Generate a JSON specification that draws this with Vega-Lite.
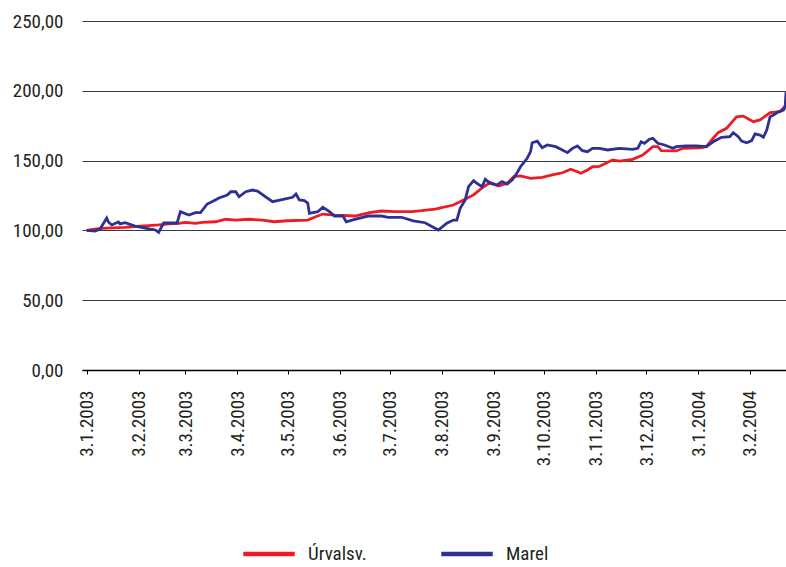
{
  "$schema": "https://vega.github.io/schema/vega-lite/v6.json",
  "autosize": {"type": "none"},
  "padding": {"left": 82, "top": 21, "right": 0, "bottom": 197},
  "width": 704,
  "height": 349,
  "background": "white",
  "config": {
    "view": {"stroke": null},
    "font": "Liberation Sans Narrow, Roboto Condensed, Roboto"
  },
  "data": {
    "values": [
      {"d": "2003-01-03", "s": "Úrvalsv.", "v": 100.0},
      {"d": "2003-01-09", "s": "Úrvalsv.", "v": 101.0},
      {"d": "2003-01-12", "s": "Úrvalsv.", "v": 101.5},
      {"d": "2003-01-26", "s": "Úrvalsv.", "v": 102.2},
      {"d": "2003-01-30", "s": "Úrvalsv.", "v": 102.6},
      {"d": "2003-02-09", "s": "Úrvalsv.", "v": 103.4},
      {"d": "2003-02-15", "s": "Úrvalsv.", "v": 103.9},
      {"d": "2003-02-21", "s": "Úrvalsv.", "v": 104.6},
      {"d": "2003-02-27", "s": "Úrvalsv.", "v": 105.1},
      {"d": "2003-03-03", "s": "Úrvalsv.", "v": 105.8},
      {"d": "2003-03-09", "s": "Úrvalsv.", "v": 105.1},
      {"d": "2003-03-13", "s": "Úrvalsv.", "v": 105.8},
      {"d": "2003-03-21", "s": "Úrvalsv.", "v": 106.2},
      {"d": "2003-03-27", "s": "Úrvalsv.", "v": 108.0},
      {"d": "2003-04-02", "s": "Úrvalsv.", "v": 107.4},
      {"d": "2003-04-10", "s": "Úrvalsv.", "v": 108.0},
      {"d": "2003-04-18", "s": "Úrvalsv.", "v": 107.4},
      {"d": "2003-04-25", "s": "Úrvalsv.", "v": 106.2},
      {"d": "2003-05-03", "s": "Úrvalsv.", "v": 106.9},
      {"d": "2003-05-15", "s": "Úrvalsv.", "v": 107.4},
      {"d": "2003-05-19", "s": "Úrvalsv.", "v": 109.4},
      {"d": "2003-05-24", "s": "Úrvalsv.", "v": 111.7},
      {"d": "2003-05-31", "s": "Úrvalsv.", "v": 111.0},
      {"d": "2003-06-12", "s": "Úrvalsv.", "v": 110.3},
      {"d": "2003-06-21", "s": "Úrvalsv.", "v": 112.7},
      {"d": "2003-06-28", "s": "Úrvalsv.", "v": 113.9},
      {"d": "2003-07-06", "s": "Úrvalsv.", "v": 113.4},
      {"d": "2003-07-16", "s": "Úrvalsv.", "v": 113.4},
      {"d": "2003-07-22", "s": "Úrvalsv.", "v": 114.1},
      {"d": "2003-07-30", "s": "Úrvalsv.", "v": 115.3},
      {"d": "2003-08-10", "s": "Úrvalsv.", "v": 118.2},
      {"d": "2003-08-16", "s": "Úrvalsv.", "v": 121.8},
      {"d": "2003-08-22", "s": "Úrvalsv.", "v": 125.4},
      {"d": "2003-08-28", "s": "Úrvalsv.", "v": 131.3},
      {"d": "2003-09-01", "s": "Úrvalsv.", "v": 134.2},
      {"d": "2003-09-06", "s": "Úrvalsv.", "v": 131.8},
      {"d": "2003-09-11", "s": "Úrvalsv.", "v": 133.7},
      {"d": "2003-09-15", "s": "Úrvalsv.", "v": 138.5},
      {"d": "2003-09-19", "s": "Úrvalsv.", "v": 139.0},
      {"d": "2003-09-25", "s": "Úrvalsv.", "v": 137.3},
      {"d": "2003-10-02", "s": "Úrvalsv.", "v": 138.0},
      {"d": "2003-10-08", "s": "Úrvalsv.", "v": 139.7},
      {"d": "2003-10-14", "s": "Úrvalsv.", "v": 141.3},
      {"d": "2003-10-19", "s": "Úrvalsv.", "v": 143.8},
      {"d": "2003-10-23", "s": "Úrvalsv.", "v": 142.0},
      {"d": "2003-10-25", "s": "Úrvalsv.", "v": 140.9},
      {"d": "2003-10-29", "s": "Úrvalsv.", "v": 143.3},
      {"d": "2003-11-01", "s": "Úrvalsv.", "v": 145.6},
      {"d": "2003-11-05", "s": "Úrvalsv.", "v": 145.8},
      {"d": "2003-11-13", "s": "Úrvalsv.", "v": 150.4},
      {"d": "2003-11-17", "s": "Úrvalsv.", "v": 149.7},
      {"d": "2003-11-25", "s": "Úrvalsv.", "v": 150.9},
      {"d": "2003-12-01", "s": "Úrvalsv.", "v": 154.0},
      {"d": "2003-12-07", "s": "Úrvalsv.", "v": 160.0},
      {"d": "2003-12-10", "s": "Úrvalsv.", "v": 160.0},
      {"d": "2003-12-12", "s": "Úrvalsv.", "v": 157.1},
      {"d": "2003-12-21", "s": "Úrvalsv.", "v": 156.9},
      {"d": "2003-12-25", "s": "Úrvalsv.", "v": 158.8},
      {"d": "2004-01-04", "s": "Úrvalsv.", "v": 159.2},
      {"d": "2004-01-08", "s": "Úrvalsv.", "v": 160.0},
      {"d": "2004-01-12", "s": "Úrvalsv.", "v": 166.0},
      {"d": "2004-01-15", "s": "Úrvalsv.", "v": 170.0},
      {"d": "2004-01-20", "s": "Úrvalsv.", "v": 173.1},
      {"d": "2004-01-26", "s": "Úrvalsv.", "v": 181.4},
      {"d": "2004-01-30", "s": "Úrvalsv.", "v": 181.9},
      {"d": "2004-02-05", "s": "Úrvalsv.", "v": 177.9},
      {"d": "2004-02-09", "s": "Úrvalsv.", "v": 179.1},
      {"d": "2004-02-15", "s": "Úrvalsv.", "v": 184.3},
      {"d": "2004-02-21", "s": "Úrvalsv.", "v": 185.0},
      {"d": "2004-02-24", "s": "Úrvalsv.", "v": 189.1},
      {"d": "2003-01-03", "s": "Marel", "v": 100.0},
      {"d": "2003-01-08", "s": "Marel", "v": 99.6},
      {"d": "2003-01-11", "s": "Marel", "v": 101.0},
      {"d": "2003-01-15", "s": "Marel", "v": 108.9},
      {"d": "2003-01-16", "s": "Marel", "v": 106.0},
      {"d": "2003-01-18", "s": "Marel", "v": 103.9},
      {"d": "2003-01-22", "s": "Marel", "v": 106.0},
      {"d": "2003-01-23", "s": "Marel", "v": 104.6},
      {"d": "2003-01-26", "s": "Marel", "v": 105.5},
      {"d": "2003-02-01", "s": "Marel", "v": 103.1},
      {"d": "2003-02-07", "s": "Marel", "v": 101.7},
      {"d": "2003-02-13", "s": "Marel", "v": 100.3},
      {"d": "2003-02-15", "s": "Marel", "v": 98.5},
      {"d": "2003-02-18", "s": "Marel", "v": 105.3},
      {"d": "2003-02-22", "s": "Marel", "v": 105.3},
      {"d": "2003-02-26", "s": "Marel", "v": 105.3},
      {"d": "2003-02-28", "s": "Marel", "v": 113.4},
      {"d": "2003-03-05", "s": "Marel", "v": 111.0},
      {"d": "2003-03-09", "s": "Marel", "v": 112.7},
      {"d": "2003-03-12", "s": "Marel", "v": 112.7},
      {"d": "2003-03-16", "s": "Marel", "v": 118.9},
      {"d": "2003-03-20", "s": "Marel", "v": 121.3},
      {"d": "2003-03-23", "s": "Marel", "v": 123.2},
      {"d": "2003-03-28", "s": "Marel", "v": 125.4},
      {"d": "2003-03-30", "s": "Marel", "v": 127.7},
      {"d": "2003-04-02", "s": "Marel", "v": 127.7},
      {"d": "2003-04-04", "s": "Marel", "v": 124.1},
      {"d": "2003-04-08", "s": "Marel", "v": 127.7},
      {"d": "2003-04-12", "s": "Marel", "v": 128.9},
      {"d": "2003-04-15", "s": "Marel", "v": 128.2},
      {"d": "2003-04-24", "s": "Marel", "v": 120.6},
      {"d": "2003-05-06", "s": "Marel", "v": 123.7},
      {"d": "2003-05-08", "s": "Marel", "v": 126.1},
      {"d": "2003-05-10", "s": "Marel", "v": 121.8},
      {"d": "2003-05-13", "s": "Marel", "v": 121.3},
      {"d": "2003-05-15", "s": "Marel", "v": 119.6},
      {"d": "2003-05-16", "s": "Marel", "v": 112.2},
      {"d": "2003-05-21", "s": "Marel", "v": 113.4},
      {"d": "2003-05-24", "s": "Marel", "v": 116.5},
      {"d": "2003-05-28", "s": "Marel", "v": 113.4},
      {"d": "2003-05-31", "s": "Marel", "v": 110.3},
      {"d": "2003-06-05", "s": "Marel", "v": 110.3},
      {"d": "2003-06-07", "s": "Marel", "v": 106.2},
      {"d": "2003-06-12", "s": "Marel", "v": 107.9},
      {"d": "2003-06-20", "s": "Marel", "v": 110.3},
      {"d": "2003-06-28", "s": "Marel", "v": 110.3},
      {"d": "2003-07-02", "s": "Marel", "v": 109.4},
      {"d": "2003-07-10", "s": "Marel", "v": 109.4},
      {"d": "2003-07-17", "s": "Marel", "v": 106.9},
      {"d": "2003-07-24", "s": "Marel", "v": 105.5},
      {"d": "2003-08-01", "s": "Marel", "v": 100.3},
      {"d": "2003-08-06", "s": "Marel", "v": 105.1},
      {"d": "2003-08-10", "s": "Marel", "v": 107.4},
      {"d": "2003-08-12", "s": "Marel", "v": 107.4},
      {"d": "2003-08-14", "s": "Marel", "v": 115.8},
      {"d": "2003-08-17", "s": "Marel", "v": 121.8},
      {"d": "2003-08-19", "s": "Marel", "v": 131.3},
      {"d": "2003-08-22", "s": "Marel", "v": 135.6},
      {"d": "2003-08-24", "s": "Marel", "v": 133.7},
      {"d": "2003-08-27", "s": "Marel", "v": 131.3},
      {"d": "2003-08-29", "s": "Marel", "v": 136.6},
      {"d": "2003-09-01", "s": "Marel", "v": 133.7},
      {"d": "2003-09-05", "s": "Marel", "v": 132.5},
      {"d": "2003-09-08", "s": "Marel", "v": 134.9},
      {"d": "2003-09-11", "s": "Marel", "v": 133.2},
      {"d": "2003-09-14", "s": "Marel", "v": 136.1},
      {"d": "2003-09-17", "s": "Marel", "v": 141.3},
      {"d": "2003-09-19", "s": "Marel", "v": 145.6},
      {"d": "2003-09-23", "s": "Marel", "v": 151.6},
      {"d": "2003-09-25", "s": "Marel", "v": 156.4},
      {"d": "2003-09-26", "s": "Marel", "v": 162.8},
      {"d": "2003-09-29", "s": "Marel", "v": 164.0},
      {"d": "2003-10-02", "s": "Marel", "v": 159.2},
      {"d": "2003-10-05", "s": "Marel", "v": 161.2},
      {"d": "2003-10-10", "s": "Marel", "v": 160.0},
      {"d": "2003-10-14", "s": "Marel", "v": 157.6},
      {"d": "2003-10-17", "s": "Marel", "v": 155.7},
      {"d": "2003-10-20", "s": "Marel", "v": 158.8},
      {"d": "2003-10-23", "s": "Marel", "v": 160.5},
      {"d": "2003-10-26", "s": "Marel", "v": 157.1},
      {"d": "2003-10-29", "s": "Marel", "v": 156.4},
      {"d": "2003-11-01", "s": "Marel", "v": 158.8},
      {"d": "2003-11-05", "s": "Marel", "v": 158.8},
      {"d": "2003-11-10", "s": "Marel", "v": 157.6},
      {"d": "2003-11-17", "s": "Marel", "v": 158.8},
      {"d": "2003-11-25", "s": "Marel", "v": 158.1},
      {"d": "2003-11-28", "s": "Marel", "v": 158.8},
      {"d": "2003-11-30", "s": "Marel", "v": 163.5},
      {"d": "2003-12-02", "s": "Marel", "v": 162.4},
      {"d": "2003-12-05", "s": "Marel", "v": 165.3},
      {"d": "2003-12-07", "s": "Marel", "v": 166.0},
      {"d": "2003-12-10", "s": "Marel", "v": 162.4},
      {"d": "2003-12-14", "s": "Marel", "v": 161.2},
      {"d": "2003-12-19", "s": "Marel", "v": 158.8},
      {"d": "2003-12-21", "s": "Marel", "v": 160.0},
      {"d": "2003-12-27", "s": "Marel", "v": 160.5},
      {"d": "2004-01-02", "s": "Marel", "v": 160.5},
      {"d": "2004-01-08", "s": "Marel", "v": 160.0},
      {"d": "2004-01-12", "s": "Marel", "v": 163.5},
      {"d": "2004-01-17", "s": "Marel", "v": 166.7},
      {"d": "2004-01-22", "s": "Marel", "v": 167.1},
      {"d": "2004-01-24", "s": "Marel", "v": 170.0},
      {"d": "2004-01-27", "s": "Marel", "v": 167.1},
      {"d": "2004-01-29", "s": "Marel", "v": 164.0},
      {"d": "2004-02-01", "s": "Marel", "v": 162.8},
      {"d": "2004-02-04", "s": "Marel", "v": 164.3},
      {"d": "2004-02-06", "s": "Marel", "v": 169.1},
      {"d": "2004-02-09", "s": "Marel", "v": 168.3},
      {"d": "2004-02-11", "s": "Marel", "v": 166.7},
      {"d": "2004-02-13", "s": "Marel", "v": 171.9},
      {"d": "2004-02-15", "s": "Marel", "v": 181.4},
      {"d": "2004-02-17", "s": "Marel", "v": 182.7},
      {"d": "2004-02-20", "s": "Marel", "v": 185.0},
      {"d": "2004-02-23", "s": "Marel", "v": 186.2},
      {"d": "2004-02-24", "s": "Marel", "v": 188.6},
      {"d": "2004-02-24T12:00:00Z", "s": "Marel", "v": 199.0}
    ]
  },
  "mark": {"type": "line", "strokeWidth": 2.8, "clip": true, "interpolate": "linear"},
  "encoding": {
    "x": {
      "field": "d",
      "type": "temporal",
      "scale": {
        "type": "utc",
        "domain": [
          {"year": 2002, "month": 12, "date": 31, "hours": 6, "utc": true},
          {"year": 2004, "month": 2, "date": 24, "hours": 12, "utc": true}
        ]
      },
      "axis": {
        "title": null,
        "grid": false,
        "format": "%-d.%-m.%Y",
        "values": [
          {"year": 2003, "month": 1, "date": 3, "utc": true},
          {"year": 2003, "month": 2, "date": 3, "utc": true},
          {"year": 2003, "month": 3, "date": 3, "utc": true},
          {"year": 2003, "month": 4, "date": 3, "utc": true},
          {"year": 2003, "month": 5, "date": 3, "utc": true},
          {"year": 2003, "month": 6, "date": 3, "utc": true},
          {"year": 2003, "month": 7, "date": 3, "utc": true},
          {"year": 2003, "month": 8, "date": 3, "utc": true},
          {"year": 2003, "month": 9, "date": 3, "utc": true},
          {"year": 2003, "month": 10, "date": 3, "utc": true},
          {"year": 2003, "month": 11, "date": 3, "utc": true},
          {"year": 2003, "month": 12, "date": 3, "utc": true},
          {"year": 2004, "month": 1, "date": 3, "utc": true},
          {"year": 2004, "month": 2, "date": 3, "utc": true}
        ],
        "labelAngle": 270,
        "labelAlign": "right",
        "labelBaseline": "middle",
        "labelFontSize": 19,
        "labelColor": "#231f20",
        "labelPadding": 16,
        "labelOverlap": false,
        "labelFlush": false,
        "domainColor": "#000000",
        "domainWidth": 1.5,
        "tickColor": "#000000",
        "tickSize": 4,
        "tickWidth": 1
      }
    },
    "y": {
      "field": "v",
      "type": "quantitative",
      "scale": {"domain": [0, 250], "nice": false, "zero": true},
      "axis": {
        "title": null,
        "values": [0, 50, 100, 150, 200, 250],
        "labelExpr": "replace(format(datum.value, '.2f'), '.', ',')",
        "labelFontSize": 19,
        "labelColor": "#231f20",
        "labelPadding": 19,
        "ticks": false,
        "domain": false,
        "grid": true,
        "gridColor": "#3a3a3a",
        "gridWidth": 1.2
      }
    },
    "color": {
      "field": "s",
      "type": "nominal",
      "scale": {"domain": ["Úrvalsv.", "Marel"], "range": ["#ed1c24", "#2e3192"]},
      "legend": {
        "title": null,
        "orient": "none",
        "legendX": 159,
        "legendY": 505,
        "direction": "horizontal",
        "padding": 0,
        "symbolType": "stroke",
        "symbolSize": 2650,
        "symbolStrokeWidth": 4.5,
        "labelFontSize": 19,
        "labelColor": "#231f20",
        "labelOffset": 11,
        "columnPadding": 65,
        "encode": {
          "symbols": {
            "update": {
              "stroke": {"signal": "datum.label === 'Marel' ? '#0b3a73' : '#ed1c24'"}
            }
          }
        }
      }
    }
  }
}
